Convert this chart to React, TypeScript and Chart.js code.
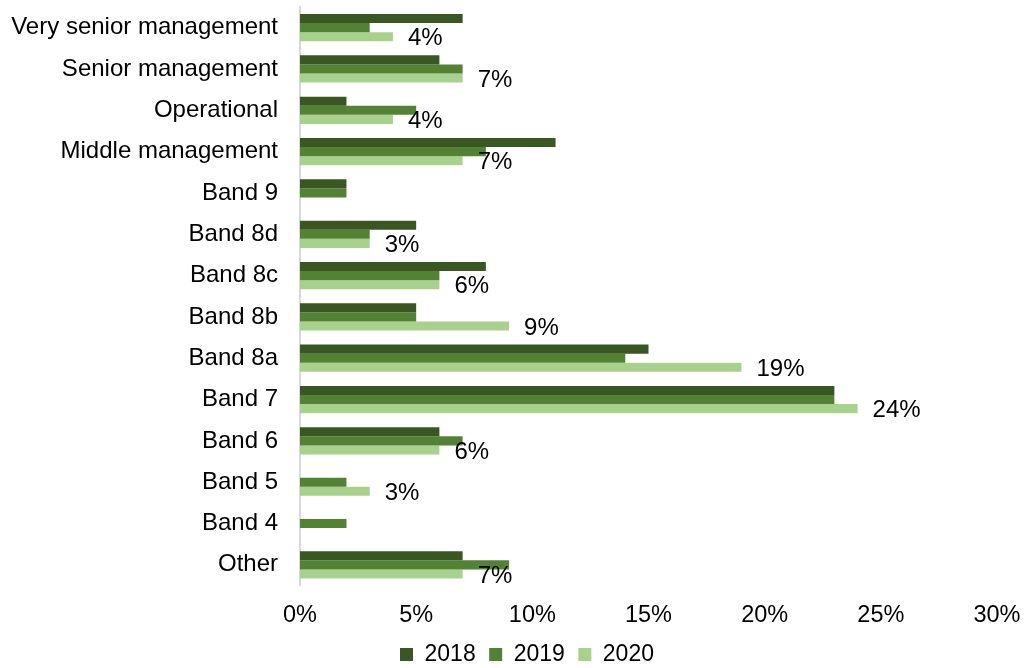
import React, { useEffect, useRef } from "react";
import { Chart, registerables } from "chart.js";

Chart.register(...registerables);

const categories = [
  "Very senior management",
  "Senior management",
  "Operational",
  "Middle management",
  "Band 9",
  "Band 8d",
  "Band 8c",
  "Band 8b",
  "Band 8a",
  "Band 7",
  "Band 6",
  "Band 5",
  "Band 4",
  "Other",
];
const values2018 = [7, 6, 2, 11, 2, 5, 8, 5, 15, 23, 6, 0, 0, 7];
const values2019 = [3, 7, 5, 8, 2, 3, 6, 5, 14, 23, 7, 2, 2, 9];
const values2020 = [4, 7, 4, 7, 0, 3, 6, 9, 19, 24, 6, 3, 0, 7];
const seriesNames = ["2018", "2019", "2020"];
const xTicks = [0, 5, 10, 15, 20, 25, 30];

const FONT = "'Liberation Sans', Arial, sans-serif";

const labelPlugin = {
  id: "labels2020",
  afterLayout(chart: any) {
    // let the category labels extend left of the (narrowed) axis box
    if (chart.scales.y) chart.scales.y.left = 0;
  },
  afterDatasetsDraw(chart: any) {
    const ctx = chart.ctx;
    const meta = chart.getDatasetMeta(2);
    ctx.save();
    ctx.font = `24px ${FONT}`;
    ctx.fillStyle = "#000";
    ctx.textAlign = "left";
    ctx.textBaseline = "middle";
    meta.data.forEach((bar: any, i: number) => {
      const v = values2020[i];
      if (!v) return;
      ctx.fillText(v + "%", bar.x + 15, bar.y + 2);
    });
    ctx.restore();
  },
};

export default function App() {
  const ref = useRef<HTMLCanvasElement>(null);
  useEffect(() => {
    if (!ref.current) return;
    const chart = new Chart(ref.current, {
      type: "bar",
      data: {
        labels: categories,
        datasets: [
          { label: seriesNames[0], data: values2018, backgroundColor: "#385723" },
          { label: seriesNames[1], data: values2019, backgroundColor: "#548235" },
          { label: seriesNames[2], data: values2020, backgroundColor: "#a9d18e" },
        ],
      },
      options: {
        indexAxis: "y",
        animation: false,
        responsive: true,
        maintainAspectRatio: false,
        layout: { padding: { left: 57, right: 27, top: 7, bottom: -8 } },
        datasets: { bar: { categoryPercentage: 0.66, barPercentage: 1 } },
        scales: {
          x: {
            min: 0,
            max: 30,
            afterBuildTicks: (s: any) => {
              s.ticks = xTicks.map((v) => ({ value: v }));
            },
            afterFit: (s: any) => {
              s.paddingLeft = 0;
              s.paddingRight = 0;
              s.height = 44;
            },
            grid: { display: false, drawTicks: false },
            border: { display: false },
            ticks: {
              padding: 16,
              color: "#000",
              font: { family: FONT, size: 23.5 },
              maxRotation: 0,
              callback: (v: any) => v + "%",
            },
          },
          y: {
            afterFit: (s: any) => {
              s.width = 243;
              s.paddingTop = 0;
              s.paddingBottom = 0;
            },
            grid: { display: false, drawTicks: false },
            border: { display: true, color: "#d9d9d9", width: 2 },
            ticks: {
              padding: 22,
              color: "#000",
              font: { family: FONT, size: 24 },
              autoSkip: false,
            },
          },
        },
        plugins: {
          legend: {
            position: "bottom",
            labels: {
              boxWidth: 13,
              boxHeight: 13,
              padding: 13.5,
              color: "#000",
              font: { family: FONT, size: 23 },
            },
          },
          tooltip: { enabled: false },
        },
      },
      plugins: [labelPlugin],
    });
    return () => chart.destroy();
  }, []);
  return (
    <div style={{ position: "fixed", left: 0, top: 0, width: 1024, height: 668 }}>
      <canvas ref={ref} />
    </div>
  );
}
